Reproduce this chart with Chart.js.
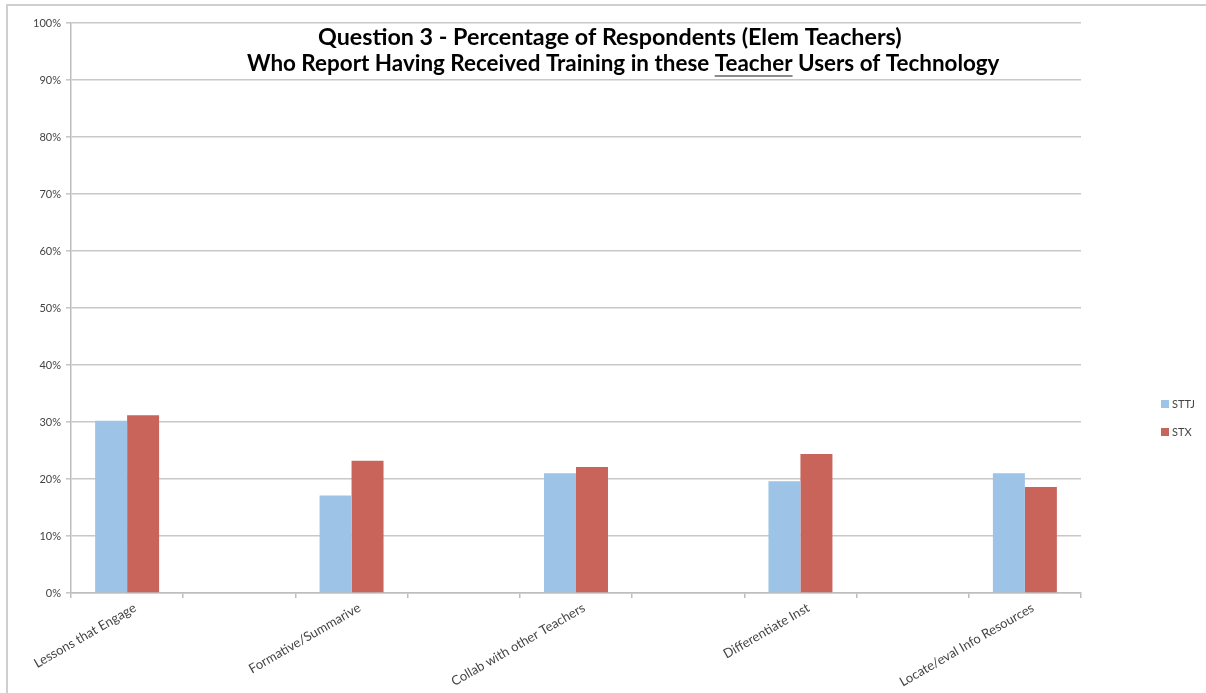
<!DOCTYPE html>
<html>
<head>
<meta charset="utf-8">
<script src="https://cdn.jsdelivr.net/npm/chart.js@4"></script>
<style>
  html,body{margin:0;padding:0;background:#fff;}
  #wrap{width:1206px;height:693px;position:relative;}
</style>
</head>
<body>
<div id="wrap"><canvas id="c" width="1206" height="693"></canvas></div>
<script>
// categories (blank slots keep Excel's gaps between groups)
const categories = ['Lessons that Engage','','Formative/Summarive','','Collab with other Teachers','','Differentiate Inst','','Locate/eval Info Resources'];
const seriesNames = ['STTJ','STX'];
const sttj = [30.2,null,17.1,null,21.0,null,19.6,null,21.0];
const stx  = [31.2,null,23.2,null,22.1,null,24.4,null,18.6];
const yTicks = [0,10,20,30,40,50,60,70,80,90,100];
const titleLines = ['Question 3 - Percentage of Respondents (Elem Teachers)','Who Report Having Received Training in these Teacher Users of Technology'];
const underlined = 'Teacher';

const BLUE = '#9dc3e6';
const RED = '#c9645a';
const FONT = "Lato, 'Open Sans', sans-serif";

// size a bold line so it spans the wanted width
function fitFont(ctx, text, width){
  ctx.font = 'bold 100px ' + FONT;
  return 100*width/ctx.measureText(text).width;
}

// title over the plot, two centred lines, one word underlined
const titlePlugin = {
  id:'titleOverlay',
  afterDraw(chart){
    const ctx = chart.ctx;
    ctx.save();
    ctx.fillStyle = '#000';
    ctx.textBaseline = 'alphabetic';
    ctx.textAlign = 'left';

    const s1 = fitFont(ctx, titleLines[0], 584);
    ctx.font = 'bold ' + s1 + 'px ' + FONT;
    ctx.fillText(titleLines[0], 610 - 292, 45);

    const s2 = fitFont(ctx, titleLines[1], 753);
    ctx.font = 'bold ' + s2 + 'px ' + FONT;
    const x2 = 623.5 - 376.5;
    ctx.fillText(titleLines[1], x2, 71);
    const idx = titleLines[1].indexOf(underlined);
    const ux = x2 + ctx.measureText(titleLines[1].slice(0, idx)).width;
    const uw = ctx.measureText(underlined).width;
    ctx.strokeStyle = '#8c8c8c';
    ctx.lineWidth = 2;
    ctx.beginPath();
    ctx.moveTo(ux, 76);
    ctx.lineTo(ux + uw, 76);
    ctx.stroke();
    ctx.restore();
  }
};

// outer frame (top and left edges) plus the legend on the right
const framePlugin = {
  id:'frame',
  beforeDraw(chart){
    const ctx = chart.ctx;
    ctx.save();
    ctx.fillStyle = '#fff';
    ctx.fillRect(0,0,chart.width,chart.height);
    ctx.strokeStyle = '#cfcfcf';
    ctx.lineWidth = 2;
    ctx.beginPath();
    ctx.moveTo(7, 693);
    ctx.lineTo(7, 5);
    ctx.lineTo(1206, 5);
    ctx.stroke();
    ctx.restore();
  },
  afterDraw(chart){
    const ctx = chart.ctx;
    ctx.save();
    ctx.font = '11px ' + FONT;
    ctx.textBaseline = 'middle';
    chart.data.datasets.forEach((ds,i)=>{
      const y = 404 + i*28;
      ctx.fillStyle = ds.backgroundColor;
      ctx.fillRect(1161, y-4, 8, 8);
      ctx.fillStyle = '#444';
      ctx.fillText(ds.label, 1172, y+0.5);
    });
    ctx.restore();
  }
};

new Chart(document.getElementById('c'), {
  type:'bar',
  data:{
    labels:categories,
    datasets:[
      {label:seriesNames[0], data:sttj, backgroundColor:BLUE, categoryPercentage:0.57, barPercentage:1.0},
      {label:seriesNames[1], data:stx, backgroundColor:RED, categoryPercentage:0.57, barPercentage:1.0}
    ]
  },
  options:{
    responsive:false,
    animation:false,
    layout:{padding:{left:0,right:125,top:23,bottom:0}},
    plugins:{legend:{display:false},tooltip:{enabled:false},title:{display:false}},
    scales:{
      x:{
        grid:{drawOnChartArea:false, drawTicks:true, tickLength:5, color:'#bdbdbd', lineWidth:1.5},
        border:{color:'#bdbdbd', width:1.5},
        ticks:{autoSkip:false, minRotation:30, maxRotation:30, labelOffset:8, color:'#444', padding:2, font:{family:FONT,size:13}},
        afterFit(s){ s.height = 100; }
      },
      y:{
        min:0, max:100,
        afterBuildTicks(s){ s.ticks = yTicks.map(v=>({value:v})); },
        grid:{color:'#c8c8c8', lineWidth:1.6, tickLength:5},
        border:{color:'#bdbdbd', width:1.5},
        ticks:{color:'#444', padding:5, font:{family:FONT,size:11}, callback:v=>v+'%'},
        afterFit(s){ s.width = 71; }
      }
    }
  },
  plugins:[framePlugin, titlePlugin]
});
</script>
</body>
</html>
